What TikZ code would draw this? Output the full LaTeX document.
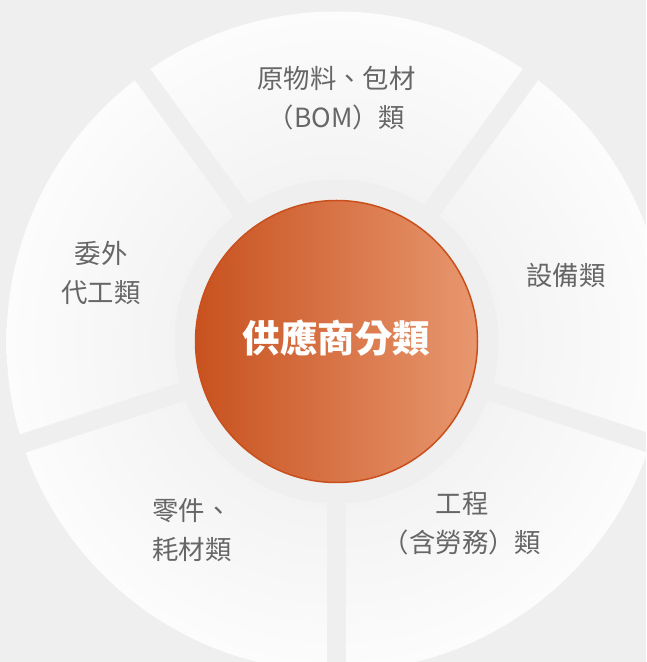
\documentclass[tikz,border=0pt]{standalone}
\usepackage{tikz}
\usepackage{fontspec}
\newfontfamily\cjk{Noto Sans CJK TC}
\definecolor{bg}{HTML}{EFEFEF}
\definecolor{secin}{HTML}{F3F3F3}
\definecolor{secout}{HTML}{FCFCFC}
\definecolor{orL}{HTML}{C8521F}
\definecolor{orR}{HTML}{E8976F}
\definecolor{orB}{HTML}{C9501C}
\definecolor{lab}{HTML}{666666}
\pgfdeclareradialshading{ringshade}{\pgfpoint{0bp}{0bp}}{color(0bp)=(secin); color(12bp)=(secin); color(25bp)=(secout); color(50bp)=(secout)}
\begin{document}
\begin{tikzpicture}[x=1pt,y=1pt,
  seclabel/.style={font=\cjk\fontsize{26.4}{39}\selectfont, text=lab, align=center, inner sep=0pt},
  gap/.style={bg, line width=19pt}]
\useasboundingbox (0,0) rectangle (646,662);
\fill[bg] (0,0) rectangle (646,662);
\coordinate (C) at (336.5,320.5);
\begin{scope}
\clip (0,0) rectangle (646,662);
\shade[shading=ringshade] (C) circle (330);
\foreach \a in {54,126,198,270,342} \draw[gap] (C) -- ++(\a:345);
\fill[bg] (C) circle (162);
\shade[left color=orL, right color=orR] (C) circle (141);
\draw[orB, line width=1.5pt] (C) circle (141);
\end{scope}
\node[font=\cjk\bfseries\fontsize{37.5}{40}\selectfont, text=white, inner sep=0pt] (title) at (336.5,324) {供應商分類};
\node[seclabel] (bom) at (336.5,563.5) {原物料、包材\\（BOM）類};
\node[seclabel] (oem) at (101,389) {委外\\代工類};
\node[seclabel] (equip) at (566,387) {設備類};
\node[seclabel] (parts) at (192,131.5) {零件、\\耗材類};
\node[seclabel] (eng) at (462,138.5) {工程\\（含勞務）類};
\end{tikzpicture}
\end{document}
